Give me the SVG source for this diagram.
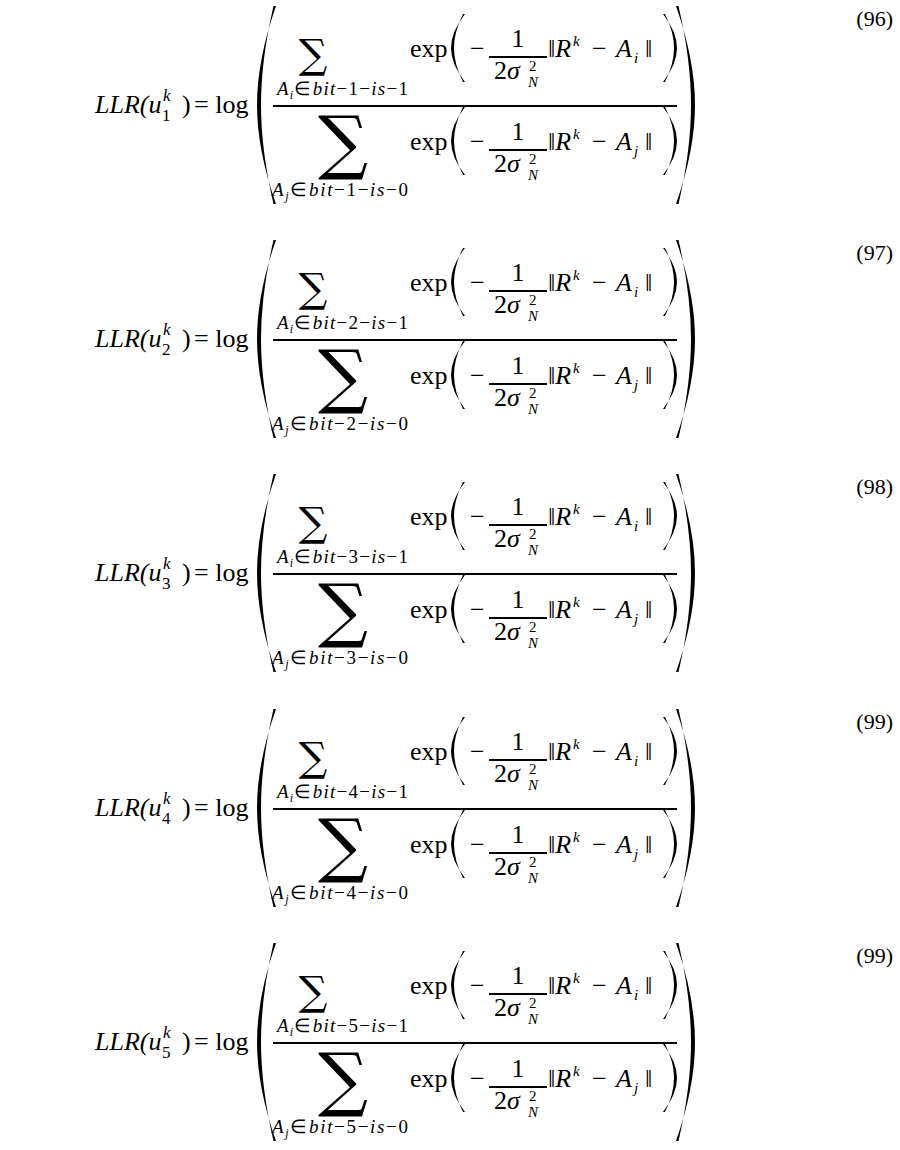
<svg xmlns="http://www.w3.org/2000/svg" width="900" height="1150" viewBox="0 0 900 1150" font-family="Liberation Serif, Times New Roman, serif">
<style>
text{font-family:'Liberation Serif','Times New Roman',serif;fill:#000}
.m{font-size:26px}
.i{font-style:italic}
.s{font-size:17px}
.b{font-size:19px}
.t{font-size:15px}
text.sum{font-family:'DejaVu Serif',serif}
.ln{stroke:#000;stroke-width:2}
</style>
<defs>
<path id="bigL" d="M276,6 Q257,60 257,105 Q257,150 276,204 L273.5,204 Q261,150 261,105 Q261,60 273.5,6Z"/>
<path id="bigR" d="M676,6 Q695,60 695,105 Q695,150 676,204 L678.5,204 Q691,150 691,105 Q691,60 678.5,6Z"/>
<path id="sl" d="M465,14 Q451,32 451,48 Q451,64 465,82 L463,82 Q454,64 454,48 Q454,32 463,14Z"/>
<path id="sr" d="M663,14 Q677,32 677,48 Q677,64 663,82 L665,82 Q674,64 674,48 Q674,32 665,14Z"/>
<g id="term">
<text class="m" x="410" y="57">exp</text>
<use href="#sl"/><use href="#sr"/>
<text class="m" x="470" y="57">−</text>
<line class="ln" x1="489" y1="57" x2="547" y2="57"/>
<text class="m" x="518" y="47" text-anchor="middle">1</text>
<text class="m" x="494" y="79">2<tspan class="i">σ</tspan></text>
<text class="t" x="529" y="71">2</text>
<text class="t i" x="528" y="87">N</text>
<text class="m" x="548" y="57">‖<tspan class="i">R</tspan></text>
<text class="t i" x="573" y="46">k</text>
<text class="m" x="592" y="57">−</text>
<text class="m i" x="616" y="57">A</text>
<text class="m" x="645" y="57">‖</text>
</g>
<g id="eq">
<text class="m i" x="95" y="113">LLR(u</text>
<text class="s i" x="163" y="101">k</text>
<text class="m" x="182" y="113">)</text>
<text class="m" x="194" y="113">= log</text>
<use href="#bigL"/><use href="#bigR"/>
<line class="ln" x1="273" y1="106" x2="677" y2="106"/>
<text class="sum" x="313" y="68" font-size="40" text-anchor="middle">∑</text>
<text class="sum" x="343" y="166" font-size="70" text-anchor="middle">∑</text>
<use href="#term"/>
<text class="t i" x="634" y="63">i</text>
<use href="#term" y="93"/>
<text class="t i" x="634" y="156">j</text>
</g>
</defs>
<g id="eq96">
<use href="#eq"/>
<text x="893" y="26" font-size="22" text-anchor="end">(96)</text>
<text class="s" x="162" y="121">1</text>
<text class="b" x="277" y="95" textLength="131" lengthAdjust="spacing"><tspan class="i">A</tspan><tspan font-size="12" class="i" dy="4">i</tspan><tspan dy="-4">∈</tspan><tspan class="i">bit</tspan>−1−<tspan class="i">is</tspan>−1</text>
<text class="b" x="272" y="196" textLength="136" lengthAdjust="spacing"><tspan class="i">A</tspan><tspan font-size="12" class="i" dy="4">j</tspan><tspan dy="-4">∈</tspan><tspan class="i">bit</tspan>−1−<tspan class="i">is</tspan>−0</text>
</g>
<g id="eq97" transform="translate(0,234)">
<use href="#eq"/>
<text x="893" y="26" font-size="22" text-anchor="end">(97)</text>
<text class="s" x="162" y="121">2</text>
<text class="b" x="277" y="95" textLength="131" lengthAdjust="spacing"><tspan class="i">A</tspan><tspan font-size="12" class="i" dy="4">i</tspan><tspan dy="-4">∈</tspan><tspan class="i">bit</tspan>−2−<tspan class="i">is</tspan>−1</text>
<text class="b" x="272" y="196" textLength="136" lengthAdjust="spacing"><tspan class="i">A</tspan><tspan font-size="12" class="i" dy="4">j</tspan><tspan dy="-4">∈</tspan><tspan class="i">bit</tspan>−2−<tspan class="i">is</tspan>−0</text>
</g>
<g id="eq98" transform="translate(0,468)">
<use href="#eq"/>
<text x="893" y="26" font-size="22" text-anchor="end">(98)</text>
<text class="s" x="162" y="121">3</text>
<text class="b" x="277" y="95" textLength="131" lengthAdjust="spacing"><tspan class="i">A</tspan><tspan font-size="12" class="i" dy="4">i</tspan><tspan dy="-4">∈</tspan><tspan class="i">bit</tspan>−3−<tspan class="i">is</tspan>−1</text>
<text class="b" x="272" y="196" textLength="136" lengthAdjust="spacing"><tspan class="i">A</tspan><tspan font-size="12" class="i" dy="4">j</tspan><tspan dy="-4">∈</tspan><tspan class="i">bit</tspan>−3−<tspan class="i">is</tspan>−0</text>
</g>
<g id="eq99a" transform="translate(0,703)">
<use href="#eq"/>
<text x="893" y="26" font-size="22" text-anchor="end">(99)</text>
<text class="s" x="162" y="121">4</text>
<text class="b" x="277" y="95" textLength="131" lengthAdjust="spacing"><tspan class="i">A</tspan><tspan font-size="12" class="i" dy="4">i</tspan><tspan dy="-4">∈</tspan><tspan class="i">bit</tspan>−4−<tspan class="i">is</tspan>−1</text>
<text class="b" x="272" y="196" textLength="136" lengthAdjust="spacing"><tspan class="i">A</tspan><tspan font-size="12" class="i" dy="4">j</tspan><tspan dy="-4">∈</tspan><tspan class="i">bit</tspan>−4−<tspan class="i">is</tspan>−0</text>
</g>
<g id="eq99b" transform="translate(0,937)">
<use href="#eq"/>
<text x="893" y="26" font-size="22" text-anchor="end">(99)</text>
<text class="s" x="162" y="121">5</text>
<text class="b" x="277" y="95" textLength="131" lengthAdjust="spacing"><tspan class="i">A</tspan><tspan font-size="12" class="i" dy="4">i</tspan><tspan dy="-4">∈</tspan><tspan class="i">bit</tspan>−5−<tspan class="i">is</tspan>−1</text>
<text class="b" x="272" y="196" textLength="136" lengthAdjust="spacing"><tspan class="i">A</tspan><tspan font-size="12" class="i" dy="4">j</tspan><tspan dy="-4">∈</tspan><tspan class="i">bit</tspan>−5−<tspan class="i">is</tspan>−0</text>
</g>
</svg>
